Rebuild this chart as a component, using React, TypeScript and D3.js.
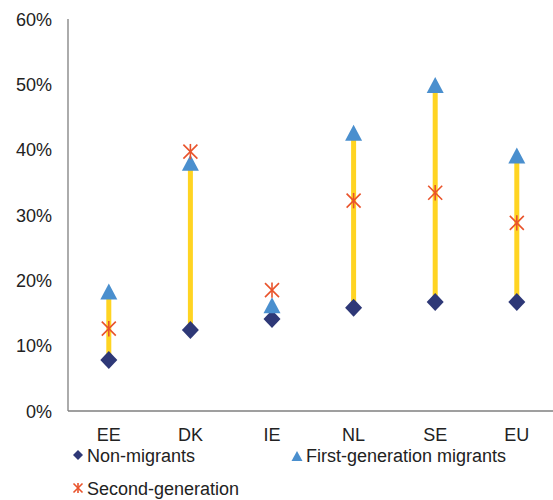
import React from "react";
import * as d3 from "d3";

const categories = ["EE", "DK", "IE", "NL", "SE", "EU"];
const nonMigrants = [7.8, 12.4, 14.1, 15.8, 16.7, 16.7];
const firstGen = [18.3, 38.0, 16.2, 42.6, 49.9, 39.1];
const secondGen = [12.6, 39.7, 18.5, 32.2, 33.4, 28.8];
const yTicks = [0, 10, 20, 30, 40, 50, 60];

const W = 553;
const H = 500;
const FONT = "'Liberation Sans', Arial, sans-serif";
const NAVY = "#2E3877";
const BLUE = "#4A8FCE";
const ORANGE = "#E9532B";
const YELLOW = "#FFD422";

function Diamond({ x, y, w, h }: { x: number; y: number; w: number; h: number }) {
  return (
    <path
      d={`M${x},${y - h / 2}L${x + w / 2},${y}L${x},${y + h / 2}L${x - w / 2},${y}Z`}
      fill={NAVY}
    />
  );
}
function Tri({ x, y, w, h }: { x: number; y: number; w: number; h: number }) {
  return (
    <path d={`M${x},${y - h / 2}L${x + w / 2},${y + h / 2}L${x - w / 2},${y + h / 2}Z`} fill={BLUE} />
  );
}
function Star({ x, y, s, sw }: { x: number; y: number; s: number; sw: number }) {
  const a = s / 2;
  return (
    <g stroke={ORANGE} strokeWidth={sw} fill="none">
      <line x1={x - a} y1={y - a} x2={x + a} y2={y + a} />
      <line x1={x - a} y1={y + a} x2={x + a} y2={y - a} />
      <line x1={x} y1={y - a * 1.1} x2={x} y2={y + a * 1.1} />
    </g>
  );
}

export default function App() {
  const left = 68;
  const top = 19;
  const bottom = 411;
  const x = d3.scaleBand<string>().domain(categories).range([left, left + 6 * 81.6]);
  const y = d3.scaleLinear().domain([0, 60]).range([bottom, top]);
  const cx = (c: string) => (x(c) as number) + x.bandwidth() / 2;

  return (
    <svg width={W} height={H} style={{ position: "absolute", left: 0, top: 0 }} fontFamily={FONT}>
      <rect width={W} height={H} fill="#fff" />
      {yTicks.map((t) => (
        <text key={t} x={52} y={y(t) + 6.5} textAnchor="end" fontSize={18} fill="#222">
          {t}%
        </text>
      ))}
      <line x1={left} y1={top} x2={left} y2={bottom} stroke="#7f7f7f" strokeWidth={1.3} />
      <line x1={left} y1={bottom} x2={W} y2={bottom} stroke="#7f7f7f" strokeWidth={1.3} />
      {categories.map((c, i) => {
        const xc = cx(c);
        const lo = Math.min(nonMigrants[i], firstGen[i], secondGen[i]);
        const hi = Math.max(nonMigrants[i], firstGen[i]);
        return (
          <g key={c}>
            <line x1={xc} x2={xc} y1={y(lo)} y2={y(hi)} stroke={YELLOW} strokeWidth={5} />
            <Diamond x={xc} y={y(nonMigrants[i])} w={17} h={18} />
            <Tri x={xc} y={y(firstGen[i])} w={17} h={16} />
            <Star x={xc} y={y(secondGen[i])} s={14} sw={1.6} />
            <text x={xc} y={bottom + 29.5} textAnchor="middle" fontSize={18} fill="#222">
              {c}
            </text>
          </g>
        );
      })}
      <Diamond x={78} y={455} w={10} h={10} />
      <text x={87} y={461.5} fontSize={18} fill="#222">Non-migrants</text>
      <Tri x={297} y={456} w={11} h={10} />
      <text x={306} y={461.5} fontSize={18} fill="#222">First-generation migrants</text>
      <Star x={78} y={488} s={9} sw={1.6} />
      <text x={87} y={494.5} fontSize={18} fill="#222">Second-generation</text>
    </svg>
  );
}
